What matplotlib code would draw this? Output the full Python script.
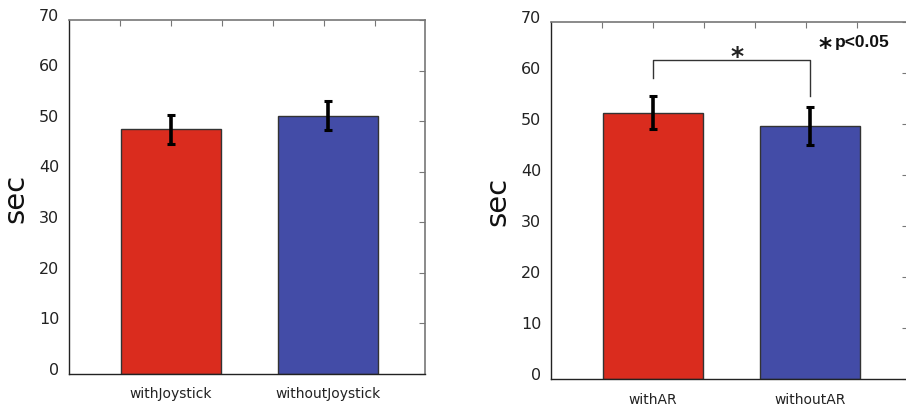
import numpy as np
import matplotlib
matplotlib.use("Agg")
import matplotlib.pyplot as plt
from matplotlib.transforms import ScaledTranslation

# data
labels_joy = ["withJoystick", "withoutJoystick"]
means_joy = [48.4, 51.1]
err_joy = [2.9, 2.9]

labels_ar = ["withAR", "withoutAR"]
means_ar = [52.3, 49.6]
err_ar = [3.2, 3.7]

yticks = [0, 10, 20, 30, 40, 50, 60, 70]
top_ticks = [0.675, 1.0, 1.325, 1.65, 1.975, 2.3]

red = "#da2c1e"
blue = "#434ca7"

fig = plt.figure(figsize=(9.06, 4.06), dpi=100)
ax1 = fig.add_axes([0.0762, 0.0764, 0.3930, 0.8719])
ax2 = fig.add_axes([0.6082, 0.0640, 0.3935, 0.8786])


def draw_panel(ax, labels, means, errs):
    x = np.arange(1, len(means) + 1)
    ax.bar(x, means, width=0.64, color=[red, blue], edgecolor="#333333",
           linewidth=1.0, zorder=2)
    ax.errorbar(x, means, yerr=errs, fmt="none", ecolor="black",
                elinewidth=2.6, capsize=3, capthick=2.2, zorder=3)
    ax.set_xlim(0.35, 2.62)
    ax.set_ylim(0, 70)
    ax.set_yticks(yticks)
    ax.set_xticks(x)
    ax.set_xticklabels(labels, fontsize=10, color="#222222")
    ax.tick_params(axis="x", length=0, pad=9)
    ax.tick_params(axis="y", left=False, right=True, direction="in",
                   length=4, color="#777777", labelsize=11.5,
                   labelcolor="#222222", pad=7)
    for lbl in ax.get_yticklabels():
        lbl.set_transform(lbl.get_transform() +
                          ScaledTranslation(0, 4.5 / 72, fig.dpi_scale_trans))
    sec = ax.secondary_xaxis("top")
    sec.set_xticks(top_ticks)
    sec.set_xticklabels([])
    sec.tick_params(direction="in", length=4, color="#777777")
    sec.spines["top"].set_visible(False)
    for side in ["left", "bottom"]:
        ax.spines[side].set_color("#222222")
        ax.spines[side].set_linewidth(1.0)
    for side in ["top", "right"]:
        ax.spines[side].set_color("#777777")
        ax.spines[side].set_linewidth(1.2)
    ax.set_ylabel("sec", fontsize=21, labelpad=7, color="#111111")


draw_panel(ax1, labels_joy, means_joy, err_joy)
draw_panel(ax2, labels_ar, means_ar, err_ar)

# significance bracket on the right panel
y_br = 62.7
ax2.plot([1, 1, 2, 2], [59.0, y_br, y_br, 55.6], color="#333333", lw=1.0)
ax2.text(1.535, 63.4, "*", fontsize=18, fontweight="bold", ha="center",
         va="center", color="#222222")
ax2.text(2.095, 65.2, "*", fontsize=18, fontweight="bold", ha="center",
         va="center", color="#111111")
ax2.text(2.16, 66.2, "p<0.05", fontsize=12.5, fontweight="bold",
         ha="left", va="center", color="#111111",
         family=["Liberation Sans Narrow", "Liberation Sans", "DejaVu Sans"])

fig.savefig("out.png", dpi=100)
